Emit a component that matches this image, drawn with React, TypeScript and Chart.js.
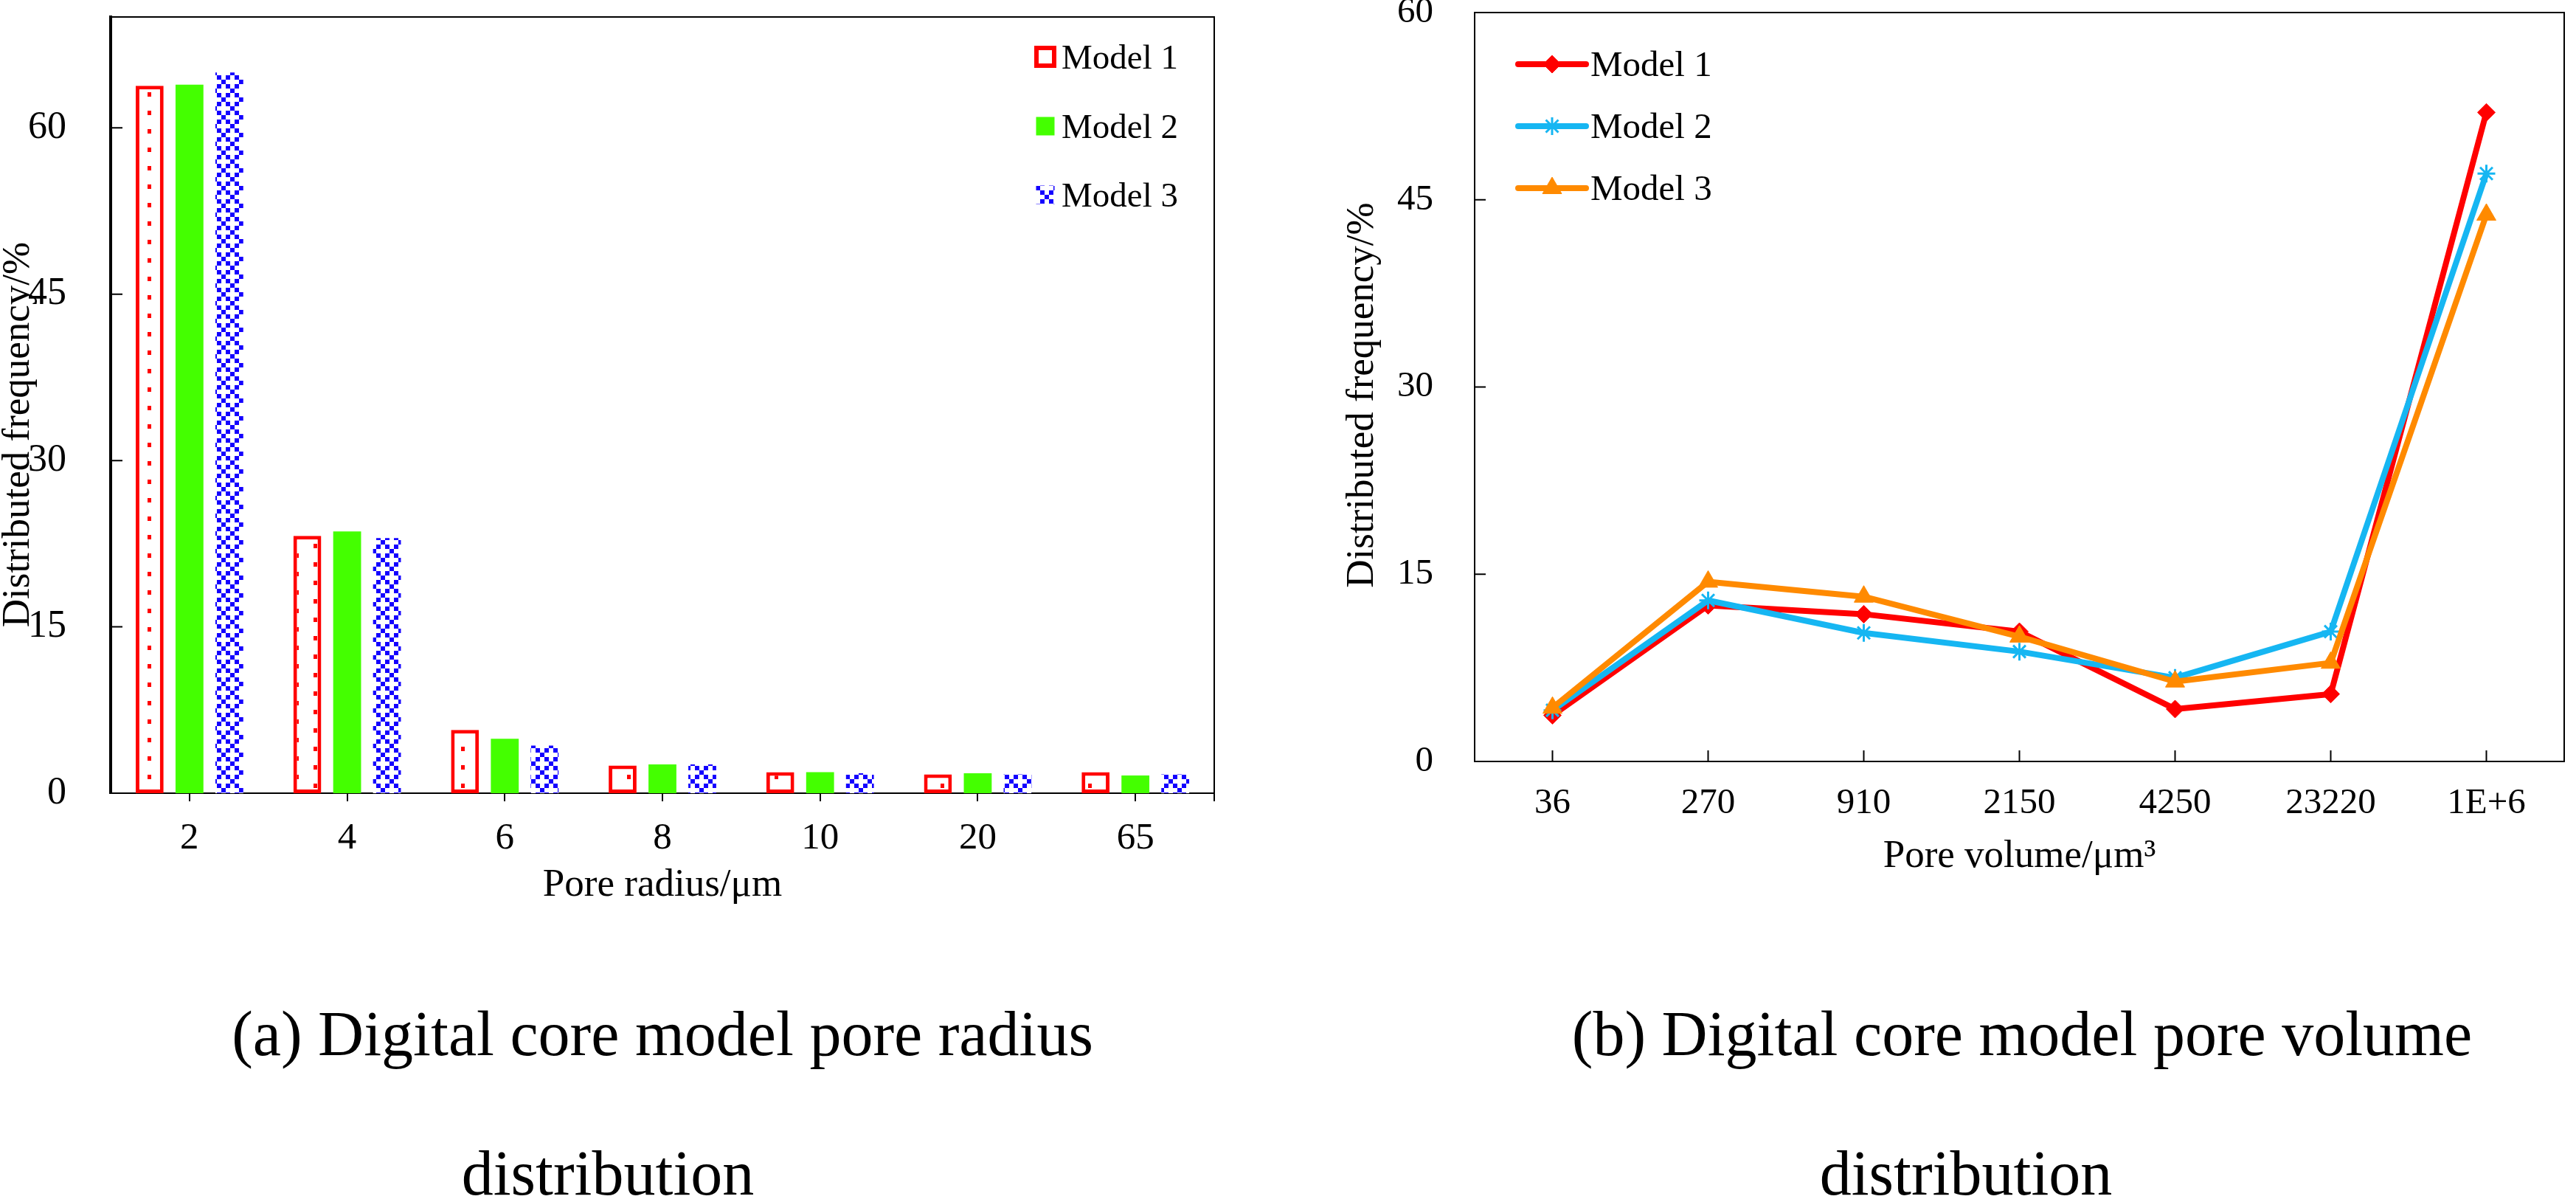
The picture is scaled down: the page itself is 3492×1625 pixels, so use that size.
import React, { useEffect, useRef } from 'react';
import { Chart, registerables } from 'chart.js';
import { drawPoint } from 'chart.js/helpers';

Chart.register(...registerables);

const FONT = "'Liberation Serif', 'Times New Roman', serif";

// ---------- Data: (a) pore radius distribution ----------
const radiusCategories = ['2', '4', '6', '8', '10', '20', '65'];
const radiusModel1 = [63.8, 23.2, 5.7, 2.5, 1.9, 1.7, 1.9];
const radiusModel2 = [63.9, 23.6, 4.9, 2.6, 1.9, 1.8, 1.6];
const radiusModel3 = [65.0, 23.0, 4.3, 2.6, 1.8, 1.7, 1.7];
const radiusYMax = 70;
const radiusYStep = 15;
const radiusYLabelMax = 60;

// ---------- Data: (b) pore volume distribution ----------
const volumeCategories = ['36', '270', '910', '2150', '4250', '23220', '1E+6'];
const volumeModel1 = [3.7, 12.5, 11.8, 10.4, 4.2, 5.4, 52.0];
const volumeModel2 = [4.1, 12.9, 10.3, 8.8, 6.7, 10.4, 47.1];
const volumeModel3 = [4.3, 14.4, 13.2, 10.0, 6.4, 7.9, 43.8];
const volumeYMax = 60;
const volumeYStep = 15;

const seriesNames = ['Model 1', 'Model 2', 'Model 3'];
const yTitle = 'Distributed frequency/%';
const radiusXTitle = 'Pore radius/μm';
const volumeXTitle = 'Pore volume/μm³';
const captionA = ['(a) Digital core model pore radius', 'distribution'];
const captionB = ['(b) Digital core model pore volume', 'distribution'];

function makeDotPattern(ctx: CanvasRenderingContext2D) {
  const t = document.createElement('canvas');
  t.width = 50;
  t.height = 25;
  const c = t.getContext('2d')!;
  c.fillStyle = '#ffffff';
  c.fillRect(0, 0, 50, 25);
  c.fillStyle = '#ff0000';
  c.fillRect(0, 0, 5, 6);
  c.fillRect(25, 12, 5, 6);
  return ctx.createPattern(t, 'repeat')!;
}

function makeCheckPattern(ctx: CanvasRenderingContext2D) {
  const cell = 6;
  const t = document.createElement('canvas');
  t.width = cell * 4;
  t.height = cell * 4;
  const c = t.getContext('2d')!;
  c.fillStyle = '#ffffff';
  c.fillRect(0, 0, t.width, t.height);
  c.fillStyle = '#1400ff';
  for (let i = 0; i < 4; i++) {
    for (let j = 0; j < 4; j++) {
      if ((i - j + 4) % 4 === 0 || (i + j) % 4 === 0) {
        c.fillRect(i * cell, j * cell, cell, cell);
      }
    }
  }
  return ctx.createPattern(t, 'repeat')!;
}

function yTitlePlugin(text: string, dx: number, dy: number) {
  return {
    id: 'yTitleCustom',
    afterDraw(chart: any) {
      const { ctx, chartArea: a } = chart;
      ctx.save();
      ctx.translate(a.left + dx, (a.top + a.bottom) / 2 + dy);
      ctx.rotate(-Math.PI / 2);
      ctx.font = `53px ${FONT}`;
      ctx.fillStyle = '#000';
      ctx.textAlign = 'center';
      ctx.textBaseline = 'middle';
      ctx.fillText(text, 0, 0);
      ctx.restore();
    },
  };
}

function LeftChart() {
  const ref = useRef<HTMLCanvasElement | null>(null);
  useEffect(() => {
    const canvas = ref.current!;
    const ctx = canvas.getContext('2d')!;
    const dot = makeDotPattern(ctx);
    const check = makeCheckPattern(ctx);

    const framePlugin = {
      id: 'frameLeft',
      beforeDatasetsDraw(chart: any) {
        const { ctx: c, chartArea: a, scales } = chart;
        c.save();
        c.strokeStyle = '#000';
        c.lineWidth = 2;
        c.strokeRect(a.left, a.top, a.right - a.left, a.bottom - a.top);
        c.beginPath();
        c.moveTo(a.right, a.bottom);
        c.lineTo(a.right, a.bottom + 11);
        scales.y.ticks.forEach((t: any) => {
          const y = scales.y.getPixelForValue(t.value);
          c.moveTo(a.left, y);
          c.lineTo(a.left + 16, y);
        });
        c.stroke();
        c.lineWidth = 4;
        c.beginPath();
        c.moveTo(a.left, a.top);
        c.lineTo(a.left, a.bottom + 1);
        c.stroke();
        c.restore();
      },
    };

    const legendPlugin = {
      id: 'legendLeft',
      afterDraw(chart: any) {
        const { ctx: c, chartArea: a } = chart;
        const rowsY = [a.top + 54, a.top + 148, a.top + 241];
        const boxCx = a.right - 229;
        const textX = a.right - 207;
        c.save();
        chart.data.datasets.forEach((ds: any, i: number) => {
          const cy = rowsY[i];
          if (i === 0) {
            const s = 30;
            c.fillStyle = ds.backgroundColor;
            c.fillRect(boxCx - s / 2, cy - s / 2, s, s);
            c.strokeStyle = ds.borderColor;
            c.lineWidth = 6;
            c.strokeRect(boxCx - s / 2 + 3, cy - s / 2 + 3, s - 6, s - 6);
          } else {
            const s = 25;
            c.fillStyle = ds.backgroundColor;
            c.fillRect(boxCx - s / 2, cy - s / 2, s, s);
          }
          c.fillStyle = '#000';
          c.font = `47px ${FONT}`;
          c.textAlign = 'left';
          c.textBaseline = 'alphabetic';
          c.fillText(ds.label, textX, cy + 16);
        });
        c.restore();
      },
    };

    const chart = new Chart(canvas, {
      type: 'bar',
      data: {
        labels: radiusCategories,
        datasets: [
          {
            label: seriesNames[0],
            data: radiusModel1,
            backgroundColor: dot as any,
            borderColor: '#ff0000',
            borderWidth: 5,
            borderSkipped: false,
          },
          {
            label: seriesNames[1],
            data: radiusModel2,
            backgroundColor: '#44ff00',
            borderWidth: 0,
          },
          {
            label: seriesNames[2],
            data: radiusModel3,
            backgroundColor: check as any,
            borderWidth: 0,
          },
        ],
      },
      options: {
        responsive: false,
        animation: false,
        devicePixelRatio: 1,
        layout: { padding: { top: 23, right: 54, left: 0, bottom: 0 } },
        datasets: { bar: { categoryPercentage: 0.758, barPercentage: 0.7 } },
        plugins: { legend: { display: false }, tooltip: { enabled: false } },
        scales: {
          x: {
            offset: true,
            grid: {
              display: true,
              drawOnChartArea: false,
              drawTicks: true,
              tickLength: 11,
              offset: false,
              color: '#000',
              lineWidth: 2,
            },
            border: { display: true, color: '#000', width: 2 },
            ticks: {
              color: '#000',
              font: { family: FONT, size: 51 },
              padding: 20,
              maxRotation: 0,
              autoSkip: false,
            },
            title: {
              display: true,
              text: radiusXTitle,
              color: '#000',
              font: { family: FONT, size: 53 },
              padding: 0,
            },
            afterFit: (s: any) => {
              s.height = 157;
              s.paddingLeft = 0;
              s.paddingRight = 0;
            },
          },
          y: {
            min: 0,
            max: radiusYMax,
            grid: { display: false, drawTicks: false },
            border: { display: true, color: '#000', width: 4 },
            ticks: {
              stepSize: radiusYStep,
              color: '#000',
              font: { family: FONT, size: 52 },
              padding: 60,
            },
            afterBuildTicks: (s: any) => {
              s.ticks = s.ticks.filter((t: any) => t.value <= radiusYLabelMax);
            },
            afterFit: (s: any) => {
              s.width = 150;
              s.paddingTop = 0;
              s.paddingBottom = 0;
            },
          },
        },
      },
      plugins: [framePlugin, legendPlugin, yTitlePlugin(yTitle, -125, 40)],
    } as any);
    return () => chart.destroy();
  }, []);
  return (
    <canvas
      ref={ref}
      width={1700}
      height={1232}
      style={{ position: 'absolute', left: 0, top: 0, width: 1700, height: 1232 }}
    />
  );
}

function RightChart() {
  const ref = useRef<HTMLCanvasElement | null>(null);
  useEffect(() => {
    const canvas = ref.current!;

    const framePlugin = {
      id: 'frameRight',
      beforeDatasetsDraw(chart: any) {
        const { ctx: c, chartArea: a, scales } = chart;
        c.save();
        c.strokeStyle = '#000';
        c.lineWidth = 2;
        c.strokeRect(a.left, a.top, a.right - a.left, a.bottom - a.top);
        c.beginPath();
        volumeCategories.forEach((_, i) => {
          const x = scales.x.getPixelForValue(i);
          c.moveTo(x, a.bottom);
          c.lineTo(x, a.bottom - 15);
        });
        scales.y.ticks.forEach((t: any) => {
          const y = scales.y.getPixelForValue(t.value);
          c.moveTo(a.left, y);
          c.lineTo(a.left + 15, y);
        });
        c.stroke();
        c.restore();
      },
    };

    const legendPlugin = {
      id: 'legendRight',
      afterDraw(chart: any) {
        const { ctx: c, chartArea: a } = chart;
        const rowsY = [a.top + 70, a.top + 154, a.top + 238];
        const x0 = a.left + 59;
        const x1 = a.left + 151;
        const textX = a.left + 157;
        c.save();
        chart.data.datasets.forEach((ds: any, i: number) => {
          const cy = rowsY[i];
          c.strokeStyle = ds.borderColor;
          c.lineWidth = ds.borderWidth;
          c.lineCap = 'round';
          c.beginPath();
          c.moveTo(x0, cy);
          c.lineTo(x1, cy);
          c.stroke();
          c.fillStyle = ds.pointBackgroundColor;
          c.strokeStyle = ds.pointBorderColor;
          c.lineWidth = ds.pointBorderWidth;
          c.lineCap = 'butt';
          drawPoint(c, { pointStyle: ds.pointStyle, radius: ds.pointRadius, rotation: 0, borderWidth: ds.pointBorderWidth } as any, (x0 + x1) / 2, cy);
          c.fillStyle = '#000';
          c.font = `49px ${FONT}`;
          c.textAlign = 'left';
          c.textBaseline = 'alphabetic';
          c.fillText(ds.label, textX, cy + 16);
        });
        c.restore();
      },
    };

    const lineDs = (label: string, data: number[], color: string, style: string, radius: number, pbw: number, order: number) => ({
      label,
      data,
      borderColor: color,
      backgroundColor: color,
      pointBackgroundColor: color,
      pointBorderColor: color,
      borderWidth: 8,
      pointStyle: style,
      pointRadius: radius,
      pointBorderWidth: pbw,
      borderCapStyle: 'round',
      borderJoinStyle: 'round',
      tension: 0,
      order,
    });

    const chart = new Chart(canvas, {
      type: 'line',
      data: {
        labels: volumeCategories,
        datasets: [
          lineDs(seriesNames[0], volumeModel1, '#ff0000', 'rectRot', 12, 1, 2),
          lineDs(seriesNames[1], volumeModel2, '#16b6f2', 'star', 12, 3, 1),
          lineDs(seriesNames[2], volumeModel3, '#ff8a00', 'triangle', 15, 1, 0),
        ],
      },
      options: {
        responsive: false,
        animation: false,
        devicePixelRatio: 1,
        layout: { padding: { top: 17, right: 3, left: 0, bottom: 0 } },
        plugins: { legend: { display: false }, tooltip: { enabled: false } },
        scales: {
          x: {
            offset: true,
            grid: { display: false, drawTicks: false },
            border: { display: true, color: '#000', width: 2 },
            ticks: {
              color: '#000',
              font: { family: FONT, size: 49 },
              padding: 28,
              maxRotation: 0,
              autoSkip: false,
            },
            title: {
              display: true,
              text: volumeXTitle,
              color: '#000',
              font: { family: FONT, size: 53 },
              padding: 0,
            },
            afterFit: (s: any) => {
              s.height = 161;
              s.paddingLeft = 0;
              s.paddingRight = 0;
            },
          },
          y: {
            min: 0,
            max: volumeYMax,
            grid: { display: false, drawTicks: false },
            border: { display: true, color: '#000', width: 2 },
            ticks: {
              stepSize: volumeYStep,
              color: '#000',
              font: { family: FONT, size: 49 },
              padding: 56,
            },
            afterFit: (s: any) => {
              s.width = 239;
              s.paddingTop = 0;
              s.paddingBottom = 0;
            },
          },
        },
      },
      plugins: [framePlugin, legendPlugin, yTitlePlugin(yTitle, -152, 11)],
    } as any);
    return () => chart.destroy();
  }, []);
  return (
    <canvas
      ref={ref}
      width={1732}
      height={1193}
      style={{ position: 'absolute', left: 1760, top: 0, width: 1732, height: 1193 }}
    />
  );
}

function Caption({ text, cx, top }: { text: string; cx: number; top: number }) {
  return (
    <div
      style={{
        position: 'absolute',
        left: cx,
        top,
        transform: 'translateX(-50%)',
        whiteSpace: 'nowrap',
        fontFamily: FONT,
        fontSize: 86,
        lineHeight: '86px',
        color: '#000',
      }}
    >
      {text}
    </div>
  );
}

export default function App() {
  return (
    <div
      style={{
        position: 'fixed',
        left: 0,
        top: 0,
        width: 3492,
        height: 1625,
        background: '#ffffff',
        overflow: 'hidden',
      }}
    >
      <LeftChart />
      <RightChart />
      <Caption text={captionA[0]} cx={898} top={1358} />
      <Caption text={captionA[1]} cx={824} top={1547} />
      <Caption text={captionB[0]} cx={2741} top={1358} />
      <Caption text={captionB[1]} cx={2665} top={1547} />
    </div>
  );
}
